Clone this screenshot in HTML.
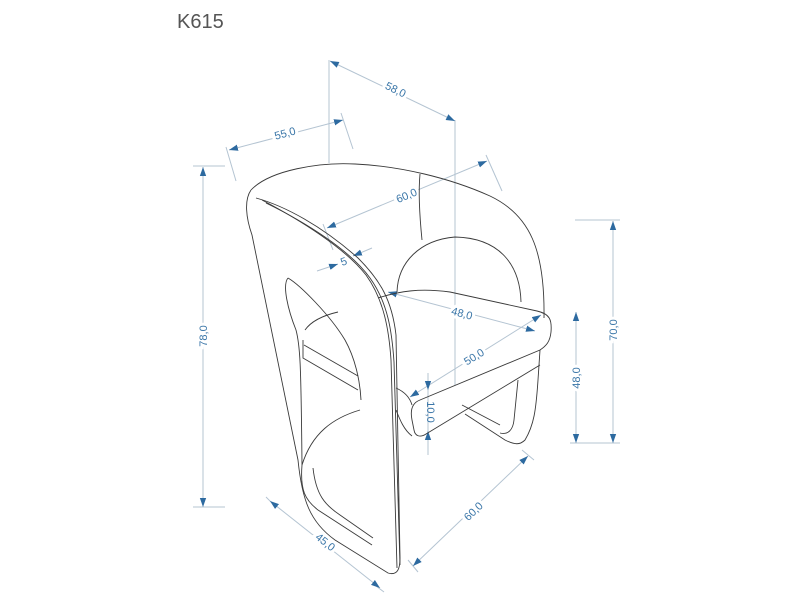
<!DOCTYPE html>
<html><head><meta charset="utf-8"><style>
html,body{margin:0;padding:0;background:#fff;width:800px;height:600px;overflow:hidden}
</style></head><body>
<svg width="800" height="600" viewBox="0 0 800 600" xmlns="http://www.w3.org/2000/svg">
<defs>
<marker id="a" viewBox="0 0 10 10" refX="10" refY="5" markerWidth="9" markerHeight="9" orient="auto-start-reverse" markerUnits="userSpaceOnUse"><path d="M0,1.5 L10,5 L0,8.5 z" fill="#2d6aa0"/></marker>
</defs>
<text x="177" y="28" font-family="Liberation Sans, sans-serif" font-size="20" fill="#555">K615</text>

<g stroke="#b4c4d2" stroke-width="1" fill="none">
<line x1="329" y1="60" x2="329" y2="163"/>
<line x1="455" y1="120" x2="455" y2="385"/>
<line x1="226" y1="147" x2="236" y2="181"/>
<line x1="341" y1="113" x2="353" y2="149"/>
<line x1="486" y1="155" x2="502" y2="191"/>
<line x1="323" y1="224" x2="333" y2="250"/>
<line x1="193" y1="166" x2="225" y2="166"/>
<line x1="193" y1="507" x2="225" y2="507"/>
<line x1="575" y1="220" x2="620" y2="220"/>
<line x1="570" y1="443" x2="620" y2="443"/>
<line x1="428" y1="373" x2="428" y2="455"/>
<line x1="266" y1="497" x2="274" y2="505"/>
<line x1="376" y1="586" x2="384" y2="592"/>
<line x1="408" y1="560" x2="418" y2="572"/>
<line x1="522" y1="450" x2="534" y2="460"/>
</g>

<g stroke="#b4c4d2" stroke-width="1" fill="none">
<line x1="330" y1="61" x2="455" y2="121" marker-start="url(#a)" marker-end="url(#a)"/>
<line x1="229" y1="150" x2="343" y2="120" marker-start="url(#a)" marker-end="url(#a)"/>
<line x1="327" y1="228" x2="487" y2="161" marker-start="url(#a)" marker-end="url(#a)"/>
<line x1="317" y1="271" x2="338" y2="264" marker-end="url(#a)"/>
<line x1="372" y1="248" x2="353" y2="256" marker-end="url(#a)"/>
<line x1="388" y1="292" x2="535" y2="331" marker-start="url(#a)" marker-end="url(#a)"/>
<line x1="410" y1="397" x2="541" y2="315" marker-start="url(#a)" marker-end="url(#a)"/>
<line x1="428" y1="373" x2="428" y2="390" marker-end="url(#a)"/>
<line x1="428" y1="455" x2="428" y2="431" marker-end="url(#a)"/>
<line x1="203" y1="167" x2="203" y2="507" marker-start="url(#a)" marker-end="url(#a)"/>
<line x1="613" y1="221" x2="613" y2="443" marker-start="url(#a)" marker-end="url(#a)"/>
<line x1="576" y1="312" x2="576" y2="443" marker-start="url(#a)" marker-end="url(#a)"/>
<line x1="270" y1="501" x2="380" y2="588" marker-start="url(#a)" marker-end="url(#a)"/>
<line x1="413" y1="566" x2="528" y2="456" marker-start="url(#a)" marker-end="url(#a)"/>
</g>

<g font-family="Liberation Sans, sans-serif" font-size="11" fill="#3a76a8" text-anchor="middle">
<text transform="translate(394,93) rotate(26)" style="paint-order:stroke" stroke="#fff" stroke-width="6">58,0</text>
<text transform="translate(286,137) rotate(-15)" style="paint-order:stroke" stroke="#fff" stroke-width="6">55,0</text>
<text transform="translate(408,199) rotate(-23)" style="paint-order:stroke" stroke="#fff" stroke-width="6">60,0</text>
<text transform="translate(345,265) rotate(-20)">5</text>
<text transform="translate(461,317) rotate(15)" style="paint-order:stroke" stroke="#fff" stroke-width="6">48,0</text>
<text transform="translate(476,360) rotate(-32)" style="paint-order:stroke" stroke="#fff" stroke-width="6">50,0</text>
<text transform="translate(427,412) rotate(90)">10,0</text>
<text transform="translate(207,336) rotate(-90)" style="paint-order:stroke" stroke="#fff" stroke-width="6">78,0</text>
<text transform="translate(617,330) rotate(-90)" style="paint-order:stroke" stroke="#fff" stroke-width="6">70,0</text>
<text transform="translate(580,378) rotate(-90)" style="paint-order:stroke" stroke="#fff" stroke-width="6">48,0</text>
<text transform="translate(323,545) rotate(38)" style="paint-order:stroke" stroke="#fff" stroke-width="6">45,0</text>
<text transform="translate(476,514) rotate(-44)" style="paint-order:stroke" stroke="#fff" stroke-width="6">60,0</text>
</g>

<g stroke="#3a3a3a" stroke-width="0.9" fill="none">
<path d="M251,190 C270,170 320,162 355,164 C400,166 450,178 490,196 C530,215 545,250 544,318"/>
<path d="M420,174 C418,195 420,220 422,240"/>
<path d="M397,292 C398,262 420,240 455,237 C500,238 520,265 521,302"/>
<!-- left panel -->
<path d="M251,190 C244,200 246,218 252,235 L298,460 C302,500 310,522 335,540 L388,573 C398,576 400,568 400,558 L396,335 C392,300 380,280 358,258 C322,226 285,206 256,198"/>
<path d="M262,200 C300,220 345,248 366,275 C384,300 389,330 391,360 L397,568"/>
<path d="M266,203 C305,222 350,250 370,278 C388,303 392,332 394,362 L400,565"/>
<!-- cutout -->
<path d="M288,278 C282,285 288,310 296,330 C300,345 301,360 302,465"/>
<path d="M288,278 C300,285 330,315 345,340 C355,358 360,380 361,400"/>
<path d="M305,330 C312,320 325,315 338,312"/>
<path d="M303,340 L303,358 L358,390"/>
<path d="M304,345 L358,376"/>
<path d="M302,465 C312,433 333,418 360,410"/>
<path d="M302,465 C300,490 305,500 318,510 L372,545"/>
<path d="M313,468 C316,495 325,505 340,515 L373,538"/>
<!-- seat -->
<path d="M378,298 C400,291 420,288 450,292 L537,311 C550,314 552,320 551,332 C550,342 546,346 540,350 L420,400 C412,403 410,410 412,420 L414,430 C415,436 420,438 426,434 L540,365"/>
<path d="M396,388 C405,392 410,398 412,405"/>
<path d="M396,410 C400,420 404,430 412,436"/>
<!-- base -->
<path d="M540,350 L538,380 C536,410 534,425 525,440 C520,445 515,445 505,440 L465,414"/>
<path d="M518,380 L514,420 C513,430 508,435 500,433"/>
<path d="M462,405 L500,425"/>
</g>
</svg>
</body></html>
